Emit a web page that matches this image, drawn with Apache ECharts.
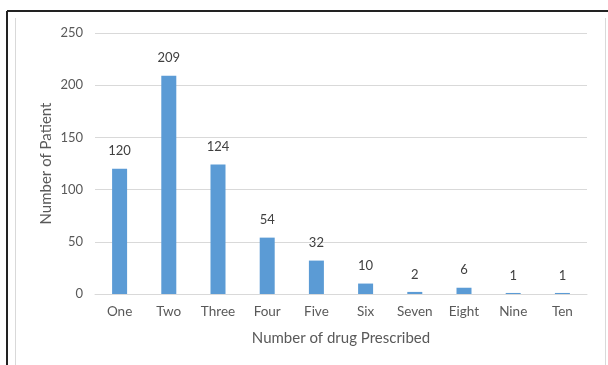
<!DOCTYPE html>
<html>
<head>
<meta charset="utf-8">
<script src="https://cdn.jsdelivr.net/npm/echarts@6/dist/echarts.min.js"></script>
<style>
html,body{margin:0;padding:0;background:#fff;}
#chart{width:608px;height:365px;}
</style>
</head>
<body>
<div id="chart"></div>
<script>
var categories = ['One', 'Two', 'Three', 'Four', 'Five', 'Six', 'Seven', 'Eight', 'Nine', 'Ten'];
var patients = [120, 209, 124, 54, 32, 10, 2, 6, 1, 1];
var yTicks = [0, 50, 100, 150, 200, 250];

var textColor = '#595959';
var font = 'Lato, "Open Sans", sans-serif';

var chart = echarts.init(document.getElementById('chart'));
chart.setOption({
    animation: false,
    textStyle: { fontFamily: font },
    grid: { left: 95, right: 21, top: 33, bottom: 71 },
    graphic: [
        // 外框
        { type: 'line', shape: { x1: 7, y1: 11, x2: 608, y2: 11 }, style: { stroke: '#222', lineWidth: 2 } },
        { type: 'line', shape: { x1: 7, y1: 11, x2: 7, y2: 365 }, style: { stroke: '#222', lineWidth: 2 } },
        { type: 'line', shape: { x1: 15.5, y1: 18, x2: 15.5, y2: 365 }, style: { stroke: '#d9d9d9', lineWidth: 1 } },
        { type: 'line', shape: { x1: 605.5, y1: 18, x2: 605.5, y2: 365 }, style: { stroke: '#d9d9d9', lineWidth: 1 } }
    ],
    xAxis: {
        type: 'category',
        data: categories,
        name: 'Number of drug Prescribed',
        nameLocation: 'middle',
        nameGap: 37,
        nameMoveOverlap: false,
        nameTextStyle: { color: textColor, fontSize: 15 },
        axisLine: { show: true, lineStyle: { color: '#d9d9d9' } },
        axisTick: { show: false },
        axisLabel: { color: textColor, fontSize: 13.5, margin: 11, interval: 0 }
    },
    yAxis: {
        type: 'value',
        min: yTicks[0],
        max: yTicks[yTicks.length - 1],
        interval: 50,
        name: 'Number of Patient',
        nameLocation: 'middle',
        nameGap: 41,
        nameMoveOverlap: false,
        nameTextStyle: { color: textColor, fontSize: 15 },
        axisLine: { show: false },
        axisTick: { show: false },
        axisLabel: { color: textColor, fontSize: 13, margin: 12 },
        splitLine: { lineStyle: { color: '#d9d9d9' } }
    },
    series: [{
        type: 'bar',
        data: patients,
        barWidth: 15,
        itemStyle: { color: '#5b9bd5' },
        label: { show: true, position: 'top', distance: 11, color: '#404040', fontSize: 13 }
    }]
});
</script>
</body>
</html>
